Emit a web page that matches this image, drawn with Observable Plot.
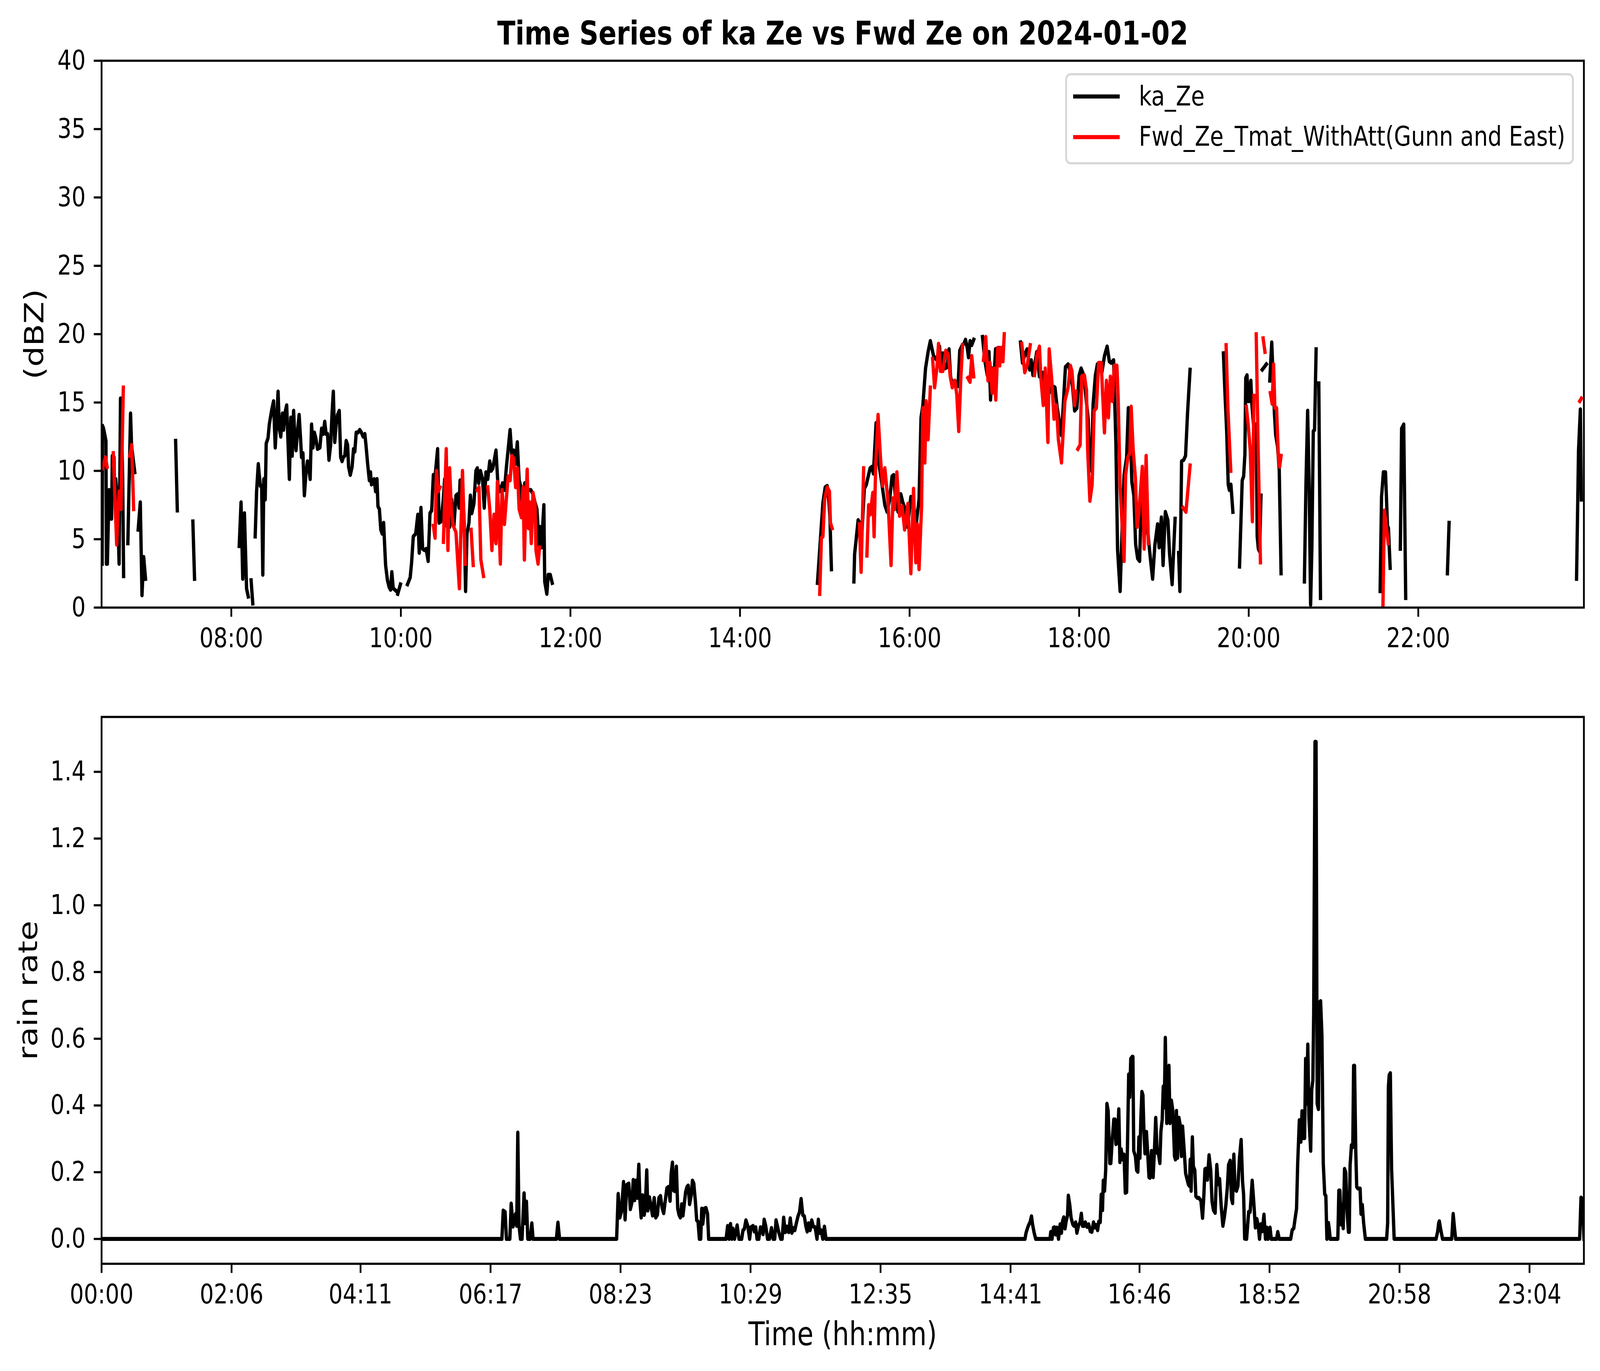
<!DOCTYPE html>
<html>
<head>
<meta charset="utf-8">
<script src="https://cdn.jsdelivr.net/npm/d3@7"></script>
<script src="https://cdn.jsdelivr.net/npm/@observablehq/plot@0.6"></script>
<style>
  html, body { margin: 0; padding: 0; background: #fff; overflow: hidden; }
  #wrap { position: relative; overflow: hidden; background: #fff; }
  #fig { position: absolute; left: 0; top: 0; width: 5017px; height: 3510px; background: #fff; font-family: "DejaVu Sans", sans-serif; transform-origin: 0 0; }
  #fig > svg { position: absolute; left: 0; display: block; max-width: none; }
</style>
</head>
<body>
<div id="wrap"><div id="fig"></div></div>
<script>
// ---------------- DATA (time = minutes after 00:00 on 2024-01-02) ----------------
const titleText = "Time Series of ka Ze vs Fwd Ze on 2024-01-02";
const seriesNames = ["ka_Ze", "Fwd_Ze_Tmat_WithAtt(Gunn and East)"];
const seriesColors = ["black", "red"];

const topTickLabels = ["08:00", "10:00", "12:00", "14:00", "16:00", "18:00", "20:00", "22:00"];
const bottomTickLabels = ["00:00", "02:06", "04:11", "06:17", "08:23", "10:29", "12:35", "14:41", "16:46", "18:52", "20:58", "23:04"];
const zeTicks = [0, 5, 10, 15, 20, 25, 30, 35, 40];
const rainTicks = [0, 0.2, 0.4, 0.6, 0.8, 1.0, 1.2, 1.4];

// ka_Ze [minute, dBZ]; null = gap in the record
const kaZe = [
  [388.6,3.2],[388.9,13.3],[389.6,13.1],[391.3,12.2],[391.6,3.2],[392.3,3.2],[393.5,8.6],[394.5,6.5],[395.3,6.5],[395.8,11.1],[397.0,11.0],[397.5,7.9],[398.2,9.4],[398.9,8.5],[399.9,6.0],[400.6,3.2],[401.6,15.3],[402.4,13.1],[403.1,9.7],[403.8,2.3], null,
  [406.8,4.7],[408.7,14.2],[409.4,11.9],[410.4,11.0],[411.7,9.9], null,
  [414.1,5.7],[415.6,7.7],[416.8,0.9],[418.0,3.7],[419.3,2.1], null,
  [440.6,12.2],[441.8,7.1], null,
  [452.8,6.3],[454.0,2.1], null,
  [485.6,4.5],[486.9,7.7],[488.1,2.1],[489.3,6.9],[490.8,1.4],[492.0,0.8], null,
  [494.0,2.0],[495.2,0.3], null,
  [496.9,5.2],[497.9,8.5],[499.1,10.5],[499.8,9.7],[500.6,8.9],[501.5,8.9],[502.3,2.4],[503.0,9.4],[504.0,7.9],[504.7,12.0],[506.0,12.4],[506.9,13.4],[507.7,13.9],[508.7,14.5],[509.9,15.1],[511.1,11.7],[511.8,13.0],[513.1,15.8],[514.0,13.1],[515.0,12.5],[516.2,14.2],[517.0,13.0],[517.9,14.2],[519.2,14.8],[520.2,11.9],[521.1,9.4],[522.1,13.9],[523.1,11.1],[524.1,14.4],[524.8,12.8],[525.8,11.5],[526.8,12.8],[528.0,14.1],[529.0,12.4],[529.7,11.0],[530.7,11.3],[531.7,8.2],[532.9,9.9],[533.9,10.7],[534.9,10.2],[535.8,9.4],[536.8,13.4],[537.8,11.7],[538.8,12.8],[539.8,12.4],[541.0,11.6],[542.7,11.7],[543.9,13.1],[545.1,12.7],[546.1,13.6],[547.1,12.7],[548.1,12.7],[549.1,10.8],[550.3,11.9],[551.3,14.2],[552.2,15.8],[553.2,12.1],[554.2,13.4],[555.2,14.1],[556.4,14.4],[557.4,11.0],[558.4,10.7],[559.3,11.0],[560.3,11.1],[561.3,12.2],[562.3,11.9],[563.0,10.3],[564.2,9.7],[565.5,10.3],[566.5,11.6],[567.4,11.4],[568.4,12.8],[569.6,12.8],[570.9,13.0],[572.1,12.8],[573.3,12.5],[574.5,12.7],[575.3,11.9],[576.5,10.5],[577.7,9.3],[578.5,9.9],[579.2,9.0],[580.2,9.1],[581.1,9.4],[582.1,8.5],[583.1,9.4],[583.8,7.4],[584.8,7.2],[585.8,5.7],[586.8,5.4],[587.8,6.2],[588.5,4.6],[589.2,3.1],[590.5,2.0],[591.7,1.5],[592.7,1.3],[593.6,2.6],[594.6,1.4],[595.8,1.3],[596.8,1.2], null,
  [597.8,1.0],[599.7,1.7], null,
  [604.7,1.7],[606.6,2.2],[607.6,3.3],[608.8,5.2],[610.5,5.4],[612.0,6.8],[613.0,4.0],[614.2,7.3],[615.4,4.3],[616.7,4.2],[617.9,4.3],[619.3,3.4],[620.6,6.9],[621.8,7.1],[623.0,9.7],[624.3,9.7],[626.0,11.6],[627.0,6.2],[628.5,6.3],[630.0,7.9],[631.0,9.4],[632.1,6.0],[633.6,9.4],[634.5,5.9],[636.0,7.9],[637.5,5.9],[639.0,8.2],[640.2,8.3],[641.2,7.3],[641.9,9.3],[643.4,9.3],[644.8,6.3],[645.8,1.2],[646.8,5.4],[648.2,6.2],[649.2,8.2],[650.2,6.9],[651.7,7.6],[653.1,10.0],[654.1,10.2],[655.1,9.1],[656.3,10.0],[657.8,9.4],[659.0,7.3],[660.2,9.9],[661.5,9.4],[662.9,10.7],[663.9,10.0],[665.1,10.2],[667.3,11.5],[668.7,9.0],[670.4,8.5],[671.9,9.1],[673.3,8.6],[674.7,10.3],[677.3,13.0],[678.5,11.1],[679.8,11.5],[681.1,10.5],[682.4,12.1],[683.7,9.3],[684.8,8.9],[686.3,7.2],[687.7,9.1],[689.9,8.6],[692.0,8.6],[693.5,8.3],[694.9,7.7],[696.3,7.2],[697.8,4.5],[698.6,5.9],[699.5,4.4],[701.2,7.5],[701.8,1.9],[703.3,1.0],[704.3,2.4],[705.7,2.4],[707.1,1.8], null,
  [894.8,1.8],[897.1,5.3],[898.7,7.7],[900.3,8.8],[901.7,8.9],[902.6,8.2],[903.6,6.7],[904.7,2.8], null,
  [920.6,1.9],[921.1,3.9],[923.6,6.4],[925.2,6.1],[926.4,5.7],[928.0,8.7],[929.4,9.0],[932.1,10.2],[933.3,10.3],[934.4,9.8],[936.3,13.5],[937.9,10.8],[940.2,9.2],[942.5,7.5],[944.1,7.0],[945.9,7.9],[947.6,9.6],[948.7,9.7],[950.1,7.9],[951.9,7.0],[953.8,8.3],[955.2,7.7],[956.5,7.3],[958.6,5.9],[960.9,8.1],[962.5,7.7],[964.8,6.2],[966.7,7.9],[968.1,13.9],[969.4,14.8],[971.3,17.5],[973.1,18.7],[974.7,19.5],[977.0,18.4],[979.3,18.1],[981.2,19.1],[982.3,17.4],[983.5,18.6],[985.1,17.5],[986.7,17.6],[987.9,18.9],[989.0,16.9],[990.2,16.4],[992.0,16.6],[994.3,16.2],[995.5,18.8],[997.3,19.2],[998.5,19.3],[999.6,19.6],[1000.8,19.0],[1001.7,18.3],[1002.8,19.5],[1004.0,19.2],[1005.4,19.6], null,
  [1011.6,19.8],[1013.2,18.1],[1015.0,17.0],[1016.2,18.7],[1017.3,15.2],[1018.5,17.5],[1019.6,16.4],[1020.8,18.9],[1023.1,19.0],[1024.7,18.1],[1026.1,19.0], null,
  [1038.5,19.4],[1039.9,17.9],[1041.5,18.5],[1043.1,18.9],[1045.0,17.4],[1046.1,18.1],[1047.3,17.0],[1048.7,17.9],[1050.0,18.7],[1051.9,16.9],[1053.7,17.2],[1055.3,16.6],[1056.9,16.2],[1058.8,15.7],[1061.1,16.2],[1062.9,16.1],[1064.5,14.6],[1065.7,13.8],[1067.5,12.6],[1068.5,14.3],[1070.3,17.6],[1072.2,17.8],[1073.8,17.2],[1075.4,16.1],[1076.8,14.4],[1078.4,14.6],[1080.0,17.0],[1081.4,17.5],[1083.2,17.0],[1084.6,15.6],[1086.4,13.8],[1087.6,10.2],[1088.7,10.0],[1089.9,14.9],[1091.5,17.0],[1092.9,17.8],[1094.3,17.5],[1096.1,17.2],[1097.9,18.4],[1099.8,19.1],[1101.4,18.0],[1102.6,17.9],[1104.4,18.1],[1106.0,12.0],[1107.2,4.2],[1109.0,1.2],[1110.6,6.4],[1111.8,9.7],[1113.6,11.0],[1114.8,14.6],[1115.9,13.8],[1117.3,9.2],[1118.7,8.2],[1120.0,4.6],[1121.4,3.6],[1122.8,3.4],[1124.2,8.8],[1125.6,8.0],[1127.4,6.4],[1129.0,5.1],[1130.5,3.5],[1132.0,2.1],[1133.6,4.6],[1135.5,6.1],[1136.6,4.4],[1138.2,6.6],[1139.4,3.1],[1141.0,7.0],[1142.8,6.4],[1144.0,3.9],[1145.8,1.7],[1147.9,6.5], null,
  [1150.4,4.0],[1151.3,1.2],[1152.5,10.7],[1154.0,10.8],[1155.3,11.1],[1156.7,14.2],[1158.5,17.4], null,
  [1182.1,18.6],[1183.1,15.9],[1184.4,12.9],[1185.5,9.0],[1186.3,8.6],[1187.4,9.0],[1188.8,7.0], null,
  [1193.5,3.0],[1195.4,9.3],[1196.4,9.6],[1197.3,11.2],[1197.9,16.8],[1198.8,17.0],[1199.6,15.1],[1200.3,15.1],[1201.5,16.6],[1202.2,14.9],[1203.4,13.4],[1205.3,13.4],[1206.0,5.2],[1206.8,4.3],[1207.7,4.1],[1208.7,8.2], null,
  [1209.6,17.4],[1212.5,17.8], null,
  [1214.9,16.6],[1216.3,19.4],[1217.2,17.0],[1218.2,14.2],[1219.1,12.6],[1220.4,11.8],[1221.6,10.1],[1222.9,2.5], null,
  [1239.4,1.9],[1240.5,9.0],[1241.7,14.4],[1242.8,8.8],[1243.8,0.2],[1244.7,4.4],[1245.7,12.9],[1246.6,13.0],[1247.7,18.9], null,
  [1249.6,16.4],[1250.8,0.7], null,
  [1293.0,1.2],[1294.0,8.1],[1295.3,9.9],[1296.8,9.9],[1298.2,6.0],[1298.9,5.8],[1300.1,2.9], null,
  [1307.3,4.3],[1308.2,13.1],[1309.7,13.4],[1311.1,0.7], null,
  [1340.6,2.5],[1341.8,6.2], null,
  [1432.0,2.1],[1433.4,11.5],[1434.7,14.5],[1435.4,7.9]
];

// Fwd_Ze_Tmat_WithAtt(Gunn and East) [minute, dBZ]
const fwdZe = [
  [389.1,10.2],[390.9,11.0],[392.1,10.3], null,
  [396.5,11.3],[397.7,7.9],[398.9,4.6],[399.9,7.2],[400.6,8.5],[401.9,7.2],[403.6,16.1], null,
  [408.2,11.1],[409.5,11.9],[410.9,7.2], null,
  [623.0,6.0],[624.2,5.1],[625.2,10.0],[626.4,8.5],[627.7,8.8], null,
  [630.1,4.8],[632.1,11.6],[633.3,4.2],[634.5,10.2],[635.7,7.2],[637.0,6.0],[639.0,5.5],[641.4,1.4],[643.6,10.0],[645.6,3.2], null,
  [649.7,5.7],[651.2,3.1], null,
  [654.1,8.6],[655.3,8.8],[656.6,3.5],[658.5,2.3], null,
  [661.5,8.8],[662.9,7.2],[664.4,4.2],[665.9,6.8],[667.3,4.7],[668.3,9.2],[670.4,3.2],[671.6,8.6],[673.3,6.1],[674.7,8.0],[675.9,9.6],[677.3,9.3],[678.5,11.1],[679.8,10.9],[681.2,8.8],[682.4,10.2],[683.7,7.2],[685.3,6.6],[686.5,8.8],[687.4,3.5],[688.4,7.5],[689.4,10.1],[690.3,5.8],[691.3,7.7],[692.3,4.7],[693.5,8.4],[694.9,7.6],[695.6,4.2],[697.1,3.2],[698.1,4.4], null,
  [896.4,1.0],[897.6,5.1],[898.7,5.2],[899.9,7.9],[901.7,8.8],[903.3,8.5],[904.0,6.2],[905.2,5.8], null,
  [924.5,6.1],[925.7,2.6],[927.5,10.2], null,
  [929.8,3.8],[931.0,7.5],[932.1,6.8],[934.0,8.4],[934.9,5.2],[936.0,10.3],[937.7,14.1],[939.5,10.8],[940.9,8.9],[942.5,10.2],[944.8,7.7],[946.9,3.1],[948.2,8.0],[949.4,7.2],[951.0,9.9],[952.9,6.7],[954.7,7.4],[956.5,5.7],[958.8,7.6],[960.9,2.5],[962.8,8.7],[964.4,3.3],[965.5,6.1],[966.7,2.8],[968.5,7.4],[969.4,14.6],[970.8,10.6],[971.7,15.1],[973.1,12.3],[974.7,16.1], null,
  [976.3,18.2],[977.7,16.1],[979.3,17.5],[980.5,19.3],[981.9,17.3],[983.5,17.3],[985.6,18.8],[987.4,18.5],[988.8,16.9],[990.2,16.1],[992.0,16.6],[993.4,15.6],[994.8,12.9],[996.2,16.6],[997.5,19.2], null,
  [1001.2,16.8],[1002.8,16.5],[1004.0,18.4],[1005.4,16.9], null,
  [1012.3,18.1],[1013.9,19.8],[1015.5,16.6],[1016.9,17.9],[1018.5,15.7],[1019.6,17.5],[1021.0,15.2],[1022.4,19.0],[1023.8,17.7],[1024.7,19.0],[1026.1,18.0],[1027.0,20.0], null,
  [1039.4,19.3],[1041.5,17.2],[1043.4,17.8],[1045.4,19.2], null,
  [1048.4,17.0],[1050.0,18.4],[1051.9,19.1],[1053.0,16.7],[1054.6,14.8],[1056.0,17.5],[1057.9,12.1],[1058.8,18.9],[1060.6,16.7],[1062.2,13.8],[1063.9,14.8],[1065.3,12.3],[1067.5,10.6],[1069.9,15.1],[1072.2,16.1],[1073.8,17.7],[1074.9,17.3],[1076.8,14.8],[1077.7,15.8], null,
  [1079.1,11.6],[1080.7,11.9],[1081.8,16.9],[1083.7,17.0],[1085.2,15.9],[1086.0,11.6],[1087.6,7.8],[1089.2,9.0],[1090.6,14.4],[1092.2,14.6],[1093.8,17.9],[1095.6,17.9],[1097.9,12.8],[1099.3,16.6],[1100.7,13.9],[1102.1,16.9],[1103.5,15.1],[1104.9,17.7],[1106.7,17.7],[1107.6,15.4],[1109.0,8.8],[1111.8,3.4],[1112.9,9.7],[1114.5,11.0],[1115.9,11.3],[1116.8,14.7],[1118.2,11.6],[1119.8,9.5],[1121.0,5.9],[1122.1,6.7],[1124.7,10.3],[1126.0,4.3],[1127.4,11.1],[1129.0,4.7], null,
  [1153.5,7.3],[1155.6,7.0],[1158.5,10.4], null,
  [1184.0,19.2],[1185.3,14.5],[1187.3,10.0], null,
  [1198.3,14.7],[1199.6,13.4],[1201.1,11.5],[1202.6,6.3],[1203.7,15.5], null,
  [1205.3,20.0],[1206.6,12.0],[1208.3,3.3], null,
  [1210.2,19.7],[1211.5,18.7], null,
  [1215.3,15.7],[1216.6,14.9],[1217.6,17.8],[1218.5,14.6],[1219.7,14.6],[1221.0,11.0],[1221.9,10.3],[1222.9,11.1], null,
  [1295.0,0.2],[1296.0,7.1],[1297.4,5.9],[1298.7,4.7], null,
  [1434.3,15.1],[1435.4,15.3]
];

// rain rate [minute, value]
const rainRate = [
  [0,0],[388.0,0],[389.3,0.085],[391.1,0.081],[392.4,0],[395.7,0],[397.0,0.106],[398.8,0.037],[401.3,0.075],[402.4,0.039],[403.4,0.319],[404.6,0.04],[406.0,0],[407.5,0],[409.5,0.137],[410.6,0.047],[411.8,0.112],[413.1,0],[415.4,0],[417.0,0.047],[418.2,0],[440.8,0],[442.3,0.049],[443.9,0],[499.2,0],
  [500.7,0.135],[502.3,0.064],[503.8,0.081],[505.9,0.171],[507.4,0.058],[509.0,0.162],[511.0,0.166],[512.5,0.089],[514.1,0.110],[515.3,0.177],[516.6,0.116],[517.9,0.175],[519.2,0.123],[520.7,0.223],[521.8,0.114],[523.0,0.064],[524.3,0.131],[525.9,0.072],[526.9,0.091],[528.4,0.206],[529.4,0.085],[531.0,0.125],[532.5,0.098],[534.0,0.070],[535.6,0.123],[537.1,0.064],[538.7,0.072],[540.2,0.123],[541.7,0.129],[543.3,0.093],[544.8,0.077],[546.4,0.116],[547.9,0.152],[549.4,0.156],[551.0,0.114],[552.0,0.194],[553.3,0.229],[554.5,0.145],[555.8,0.143],[557.1,0.217],[558.4,0.091],[559.7,0.072],[561.0,0.064],[562.2,0.104],[563.5,0.070],[564.8,0.106],[566.1,0.141],[567.4,0.156],[568.6,0.160],[569.9,0.104],[571.5,0.131],[572.7,0.175],[574.0,0.166],[575.6,0.110],[576.8,0.056],[578.1,0.052],[579.4,0],[580.7,0],[581.7,0.091],[582.7,0.045],[584.3,0.091],[585.8,0.093],[587.3,0.075],[588.4,0],[605.3,0],
  [606.8,0.039],[608.2,0],[609.6,0.045],[610.9,0],[611.9,0.031],[613.5,0],[616.0,0.041],[617.8,0],[620.4,0],[621.7,0.026],[623.0,0.030],[624.5,0.056],[626.3,0.039],[628.1,0],[629.4,0.035],[631.4,0.039],[632.7,0.022],[634.0,0.035],[635.3,0],[637.0,0],[638.6,0.035],[640.4,0.033],[641.1,0.014],[642.2,0.058],[643.7,0.039],[645.5,0],[647.3,0],[649.3,0.033],[650.9,0],[652.4,0],[653.7,0.056],[655.0,0.039],[656.5,0.018],[658.3,0],[659.6,0],[661.1,0.064],[662.7,0.020],[664.2,0.037],[666.0,0.020],[667.5,0.062],[669.1,0.018],[670.4,0.033],[671.9,0.026],[673.4,0.047],[675.0,0.068],[676.5,0.081],[678.0,0.120],[679.6,0.072],[681.1,0.068],[682.7,0.037],[683.9,0.022],[685.2,0.047],[686.7,0.026],[688.3,0.056],[689.8,0.037],[691.6,0.035],[693.4,0],[694.7,0.058],[695.9,0.018],[697.5,0.026],[699.0,0],[700.6,0.037],[702.1,0],[895.0,0],
  [896.0,0.018],[897.6,0.034],[898.9,0.044],[899.9,0.050],[901.3,0.068],[902.3,0.044],[903.9,0.018],[905.4,0],[919.2,0],[920.0,0.021],[921.2,0],[922.6,0.034],[923.6,0.035],[924.8,0.013],[925.9,0.034],[927.5,0],[929.1,0.044],[930.3,0.018],[931.5,0.055],[932.6,0.065],[933.8,0.031],[935.0,0.055],[936.2,0.070],[937.0,0.130],[938.4,0.102],[939.7,0.063],[941.3,0.044],[942.5,0.039],[944.1,0.050],[945.3,0.018],[946.8,0.039],[948.4,0.050],[949.6,0.076],[950.8,0.039],[952.2,0.039],[953.5,0.050],[955.1,0.036],[956.7,0.044],[958.3,0.023],[959.8,0.021],[961.4,0.050],[962.6,0.034],[963.8,0.042],[965.4,0.026],[966.5,0.052],[967.9,0.050],[968.9,0.133],[970.1,0.086],[970.9,0.175],[972.1,0.144],[973.2,0.206],[974.4,0.405],[975.6,0.384],[977.2,0.227],[978.2,0.227],[979.5,0.295],[981.1,0.358],[982.3,0.358],[983.1,0.284],[984.7,0.290],[985.9,0.389],[987.0,0.230],[988.2,0.269],[989.8,0.238],[991.0,0.253],[992.2,0.138],[993.5,0.140],[994.5,0.311],[995.5,0.493],[996.5,0.425],[997.5,0.540],[998.9,0.546],[999.6,0.546],[1000.4,0.264],[1002.0,0.248],[1003.2,0.206],[1004.4,0.201],[1005.4,0.305],[1006.4,0.243],[1007.3,0.363],[1008.3,0.441],[1009.3,0.431],[1010.3,0.321],[1011.3,0.256],[1012.7,0.321],[1013.8,0.264],[1015.2,0.185],[1016.2,0.183],[1017.6,0.264],[1019.2,0.185],[1020.5,0.269],[1021.7,0.363],[1023.1,0.258],[1024.5,0.253],[1025.7,0.227],[1026.7,0.321],[1028.0,0.358],[1029.0,0.457],[1030.0,0.394],[1031.0,0.603],[1032.4,0.347],[1033.6,0.405],[1034.5,0.519],[1035.5,0.347],[1036.9,0.415],[1038.3,0.384],[1039.9,0.248],[1040.8,0.238],[1041.8,0.384],[1042.8,0.243],[1044.2,0.363],[1045.4,0.342],[1046.6,0.248],[1047.7,0.337],[1049.2,0.270],[1050.7,0.196],[1052.0,0.180],[1053.3,0.164],[1054.3,0.159],[1055.2,0.238],[1056.0,0.144],[1057.2,0.305],[1058.2,0.217],[1059.6,0.206],[1060.6,0.128],[1062.0,0.123],[1063.5,0.123],[1065.5,0.115],[1067.1,0.063],[1068.4,0.133],[1069.4,0.209],[1070.6,0.211],[1071.8,0.177],[1073.4,0.251],[1075.0,0.206],[1076.3,0.112],[1077.7,0.086],[1079.3,0.078],[1080.9,0.222],[1082.2,0.164],[1083.6,0.180],[1085.2,0.096],[1086.8,0.039],[1088.2,0.065],[1089.7,0.102],[1091.1,0.154],[1092.3,0.222],[1093.9,0.235],[1095.0,0.123],[1096.2,0.107],[1097.4,0.253],[1098.6,0.149],[1100.0,0.144],[1101.4,0.159],[1102.9,0.243],[1104.5,0.297],[1105.9,0.170],[1106.9,0.133],[1107.9,0.001],[1109.8,0],[1111.8,0.081],[1113.2,0.081],[1115.2,0.175],[1116.7,0.112],[1118.3,0.034],[1119.7,0.060],[1121.1,0.039],[1122.3,0],[1123.6,0.044],[1125.0,0.023],[1126.6,0.073],[1128.1,0],[1129.5,0.034],[1130.5,0],[1132.5,0.034],[1133.7,0],[1138.8,0],[1140.0,0.021],[1141.4,0],[1152.5,0],
  [1154.0,0.027],[1155.5,0.032],[1156.7,0.059],[1158.2,0.091],[1159.3,0.226],[1160.9,0.356],[1162.4,0.291],[1163.5,0.383],[1164.9,0.302],[1166.0,0.302],[1167.0,0.540],[1168.1,0.405],[1169.1,0.583],[1170.2,0.362],[1171.9,0.264],[1172.9,0.448],[1174.0,0.475],[1174.8,0.675],[1176.1,1.490],[1177.1,1.490],[1178.2,0.405],[1179.4,0.389],[1180.3,0.708],[1181.5,0.713],[1182.8,0.610],[1184.1,0.226],[1185.5,0.134],[1186.6,0.129],[1187.6,0],[1189.1,0.048],[1190.0,0.027],[1190.8,0],[1198.2,0],[1199.2,0.145],[1200.2,0.145],[1201.3,0.043],[1202.4,0.102],[1203.4,0.032],[1204.7,0.210],[1205.9,0.199],[1207.2,0.080],[1208.5,0.021],[1209.3,0.021],[1210.1,0.221],[1211.4,0.281],[1212.7,0.275],[1213.5,0.519],[1214.4,0.519],[1215.6,0.264],[1216.5,0.156],[1217.7,0.151],[1219.8,0.151],[1220.7,0.075],[1221.9,0.102],[1223.2,0.048],[1224.9,0],[1245.5,0],[1246.5,0.048],[1247.2,0.454],[1248.0,0.491],[1249.1,0.497],[1250.3,0.210],[1251.8,0.086],[1252.8,0],[1293.4,0],[1294.9,0.021],[1296.0,0.048],[1296.6,0.053],[1298.0,0.027],[1299.7,0],[1308.6,0],[1310.0,0.075],[1311.3,0.032],[1312.4,0],[1432.6,0],[1433.9,0.124],[1435.4,0.119],[1436.8,0]
];

// axis extents (minutes)
const zeTimeDomain = [388.2, 1437.2];
const rainTimeDomain = [0, 1436.7];
const zeDomain = [0, 40];
const rainDomain = [-0.0745, 1.5645];

// ---------------- BUILD ----------------
const toMin = s => { const [h, m] = s.split(":").map(Number); return h * 60 + m; };
const rows = arr => arr.map(p => p ? {t: p[0], v: p[1]} : {t: NaN, v: NaN});
const kaRows = rows(kaZe), fwdRows = rows(fwdZe), rainRows = rows(rainRate);

const topTicks = topTickLabels.map(toMin);
const bottomTicks = bottomTickLabels.map(toMin);
const topLabelOf = new Map(topTicks.map((t, i) => [t, topTickLabels[i]]));
const botLabelOf = new Map(bottomTicks.map((t, i) => [t, bottomTickLabels[i]]));

const W = 5017, H = 3510;
const FONT = "DejaVu Sans";
const tickFont = 69.4, labelFont = 83.3;
const LW = 10.4, SPINE = 5.6, TICK = 24;
const ML = 318, MR = W - 4966;

const baseStyle = {fontFamily: FONT, fontSize: tickFont + "px", color: "black", background: "white", overflow: "visible", maxWidth: "none"};

const topPlot = Plot.plot({
  width: W, height: 1750,
  marginLeft: ML, marginRight: MR, marginTop: 155, marginBottom: 195,
  style: baseStyle,
  x: {type: "linear", domain: zeTimeDomain},
  y: {type: "linear", domain: zeDomain},
  marks: [
    Plot.line(kaRows, {x: "t", y: "v", stroke: seriesColors[0], strokeWidth: LW, strokeLinejoin: "round", strokeLinecap: "square", clip: true}),
    Plot.line(fwdRows, {x: "t", y: "v", stroke: seriesColors[1], strokeWidth: LW, strokeLinejoin: "round", strokeLinecap: "square", clip: true}),
    Plot.frame({stroke: "black", strokeWidth: SPINE}),
    Plot.axisX({ticks: topTicks, tickFormat: d => topLabelOf.get(d), tickSize: TICK, tickPadding: 28, fontSize: tickFont, strokeWidth: SPINE, stroke: "black", fill: "black", label: null}),
    Plot.axisY({ticks: zeTicks, tickFormat: d => String(d), tickSize: TICK, tickPadding: 26, fontSize: tickFont, strokeWidth: SPINE, stroke: "black", fill: "black", label: null}),
    Plot.text([titleText], {text: d => d, frameAnchor: "top", dy: -42, lineAnchor: "bottom", textAnchor: "middle", fontSize: labelFont, fontWeight: "bold", fill: "black"}),
    Plot.text(["(dBZ)"], {text: d => d, frameAnchor: "left", dx: 136 - ML, rotate: -90, lineAnchor: "bottom", textAnchor: "middle", fontSize: labelFont, fill: "black"})
  ]
});

const bottomPlot = Plot.plot({
  width: W, height: 1760,
  marginLeft: ML, marginRight: MR, marginTop: 85, marginBottom: 275,
  style: baseStyle,
  x: {type: "linear", domain: rainTimeDomain},
  y: {type: "linear", domain: rainDomain},
  marks: [
    Plot.line(rainRows, {x: "t", y: "v", stroke: "black", strokeWidth: LW, strokeLinejoin: "round", strokeLinecap: "square", clip: true}),
    Plot.frame({stroke: "black", strokeWidth: SPINE}),
    Plot.axisX({ticks: bottomTicks, tickFormat: d => botLabelOf.get(d), tickSize: TICK, tickPadding: 28, fontSize: tickFont, strokeWidth: SPINE, stroke: "black", fill: "black", label: null}),
    Plot.axisY({ticks: rainTicks, tickFormat: d3.format(".1f"), tickSize: TICK, tickPadding: 26, fontSize: tickFont, strokeWidth: SPINE, stroke: "black", fill: "black", label: null}),
    Plot.text(["Time (hh:mm)"], {text: d => d, frameAnchor: "bottom", dy: 208, lineAnchor: "bottom", textAnchor: "middle", fontSize: labelFont, fill: "black"}),
    Plot.text(["rain rate"], {text: d => d, frameAnchor: "left", dx: 116 - ML, rotate: -90, lineAnchor: "bottom", textAnchor: "middle", fontSize: labelFont, fill: "black"})
  ]
});

const wrap = document.getElementById("wrap");
const fig = document.getElementById("fig");
topPlot.style.top = "0px";
bottomPlot.style.top = "1750px";
fig.appendChild(topPlot);
fig.appendChild(bottomPlot);

// legend (upper right of the top panel)
const leg = d3.select(fig).append("svg")
  .attr("width", W).attr("height", 500)
  .style("position", "absolute").style("left", "0px").style("top", "0px")
  .style("pointer-events", "none");
leg.append("rect")
  .attr("x", 3343).attr("y", 190).attr("width", 4932 - 3343).attr("height", 418 - 190)
  .attr("rx", 14).attr("ry", 14)
  .attr("fill", "white").attr("fill-opacity", 0.8)
  .attr("stroke", "#d6d6d6").attr("stroke-width", SPINE);
const rowsY = [247, 351];
const baseY = [270, 373];
seriesNames.forEach((name, i) => {
  leg.append("line")
    .attr("x1", 3365).attr("x2", 3511).attr("y1", rowsY[i]).attr("y2", rowsY[i])
    .attr("stroke", seriesColors[i]).attr("stroke-width", LW).attr("stroke-linecap", "butt");
  leg.append("text")
    .attr("x", 3571).attr("y", baseY[i])
    .attr("font-family", FONT).attr("font-size", tickFont).attr("fill", "black")
    .text(name);
});

// fit the 5017x3510 figure exactly into the browser viewport
function fit() {
  const vw = window.innerWidth, vh = window.innerHeight;
  const sx = vw / W, sy = vh / H;
  fig.style.transform = `scale(${sx}, ${sy})`;
  wrap.style.width = vw + "px";
  wrap.style.height = vh + "px";
}
fit();
window.addEventListener("resize", fit);
</script>
</body>
</html>
